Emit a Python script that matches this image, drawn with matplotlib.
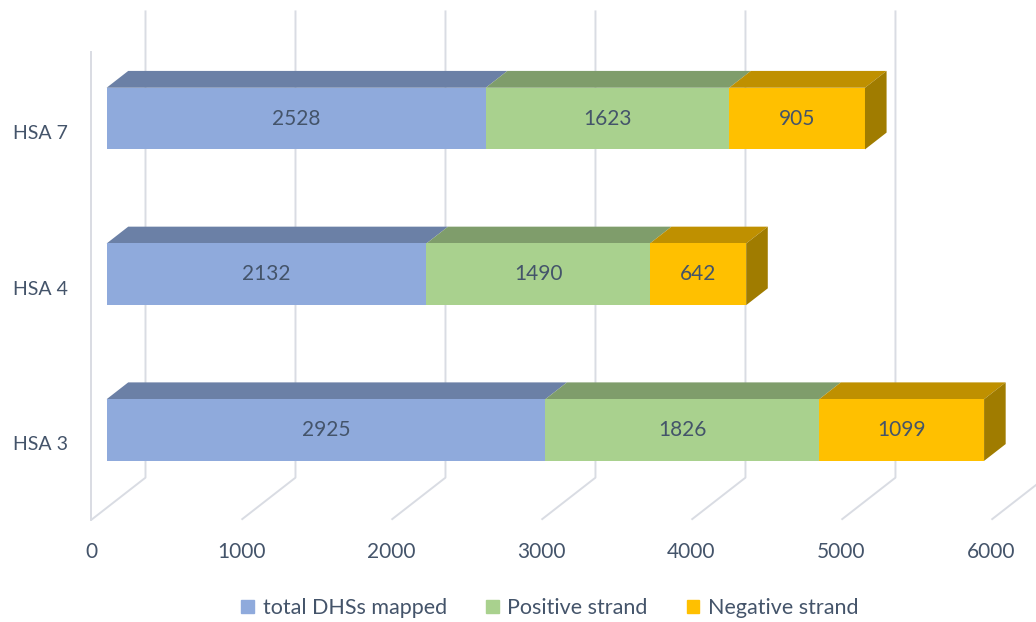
import matplotlib

matplotlib.use("Agg")
import matplotlib.pyplot as plt
from matplotlib.patches import Patch

# data
categories = ["HSA 3", "HSA 4", "HSA 7"]
series_names = ["total DHSs mapped", "Positive strand", "Negative strand"]
total_dhs = [2925, 2132, 2528]
positive = [1826, 1490, 1623]
negative = [1099, 642, 905]
x_ticks = [0, 1000, 2000, 3000, 4000, 5000, 6000]

front_cols = ["#8FAADC", "#A9D18E", "#FFC000"]
top_cols = ["#6B80A6", "#7F9D6B", "#BF9000"]
side_cols = ["#6B80A6", "#7F9D6B", "#A07C00"]
text_col = "#44546A"
grid_col = "#D9DCE3"

plt.rcParams["font.family"] = ["Lato", "DejaVu Sans"]

# fake 3D: depth d in [0, 1] shifts points right and up
DV, DC = 360.0, 0.27
D0, D1 = 0.28, 0.68
HALF = 0.198


def proj(v, c, d):
    return v + d * DV, c + d * DC


def poly(ax, pts, color):
    xs, ys = zip(*[proj(*p) for p in pts])
    ax.fill(xs, ys, color=color, lw=0, zorder=2)


fig = plt.figure(figsize=(10.36, 6.22), dpi=100)
ax = fig.add_axes([0, 0, 1, 1])
ax.set_xlim(-610, 6297)
ax.set_ylim(-1.157, 2.837)
ax.axis("off")

# walls / gridlines
for v in x_ticks:
    xs, ys = zip(proj(v, -0.5, 0), proj(v, -0.5, 1), proj(v, 2.5, 1))
    ax.plot(xs, ys, color=grid_col, lw=1.4, solid_capstyle="butt", zorder=1)
    ax.text(v, -0.71, str(v), ha="center", va="center", fontsize=15, color=text_col)
xs, ys = zip(proj(0, -0.5, 0), proj(0, 2.5, 0))
ax.plot(xs, ys, color=grid_col, lw=1.4, zorder=1)

# bars
for i, cat in enumerate(categories):
    vals = [total_dhs[i], positive[i], negative[i]]
    lo, hi = i - HALF, i + HALF
    start = 0
    for k, val in enumerate(vals):
        end = start + val
        poly(ax, [(start, hi, D0), (end, hi, D0), (end, hi, D1), (start, hi, D1)], top_cols[k])
        poly(ax, [(start, lo, D0), (end, lo, D0), (end, hi, D0), (start, hi, D0)], front_cols[k])
        tx, ty = proj((start + end) / 2, i, D0)
        ax.text(tx, ty, str(val), ha="center", va="center", fontsize=15, color=text_col, zorder=3)
        start = end
    poly(ax, [(start, lo, D0), (start, lo, D1), (start, hi, D1), (start, hi, D0)], side_cols[-1])
    ax.text(-155, i - 0.02, cat, ha="right", va="center", fontsize=14, color=text_col)

handles = [Patch(color=c) for c in front_cols]
fig.legend(handles, series_names, loc="center", bbox_to_anchor=(550 / 1036, 14 / 622),
           ncol=3, frameon=False, fontsize=15.5, labelcolor=text_col,
           handlelength=0.6, handleheight=0.6, handletextpad=0.4, columnspacing=1.8)

fig.savefig("out.png", dpi=100)
